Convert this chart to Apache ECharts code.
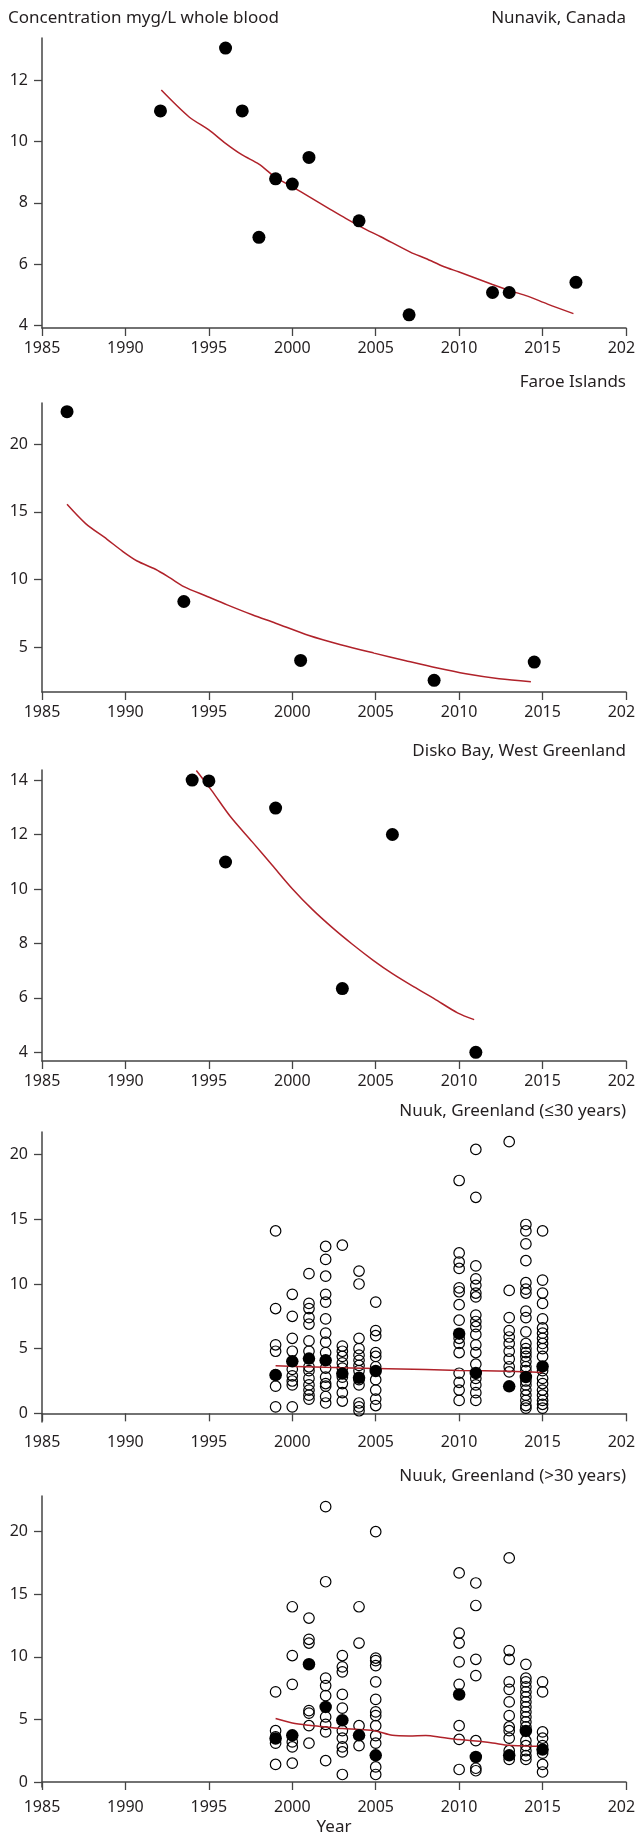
<!DOCTYPE html>
<html>
<head>
<meta charset="utf-8">
<script src="https://cdn.jsdelivr.net/npm/echarts@6/dist/echarts.min.js"></script>
<style>
html,body{margin:0;padding:0;background:#fff;}
#chart{width:635px;height:1836px;}
</style>
</head>
<body>
<div id="chart"></div>
<script>
// ---------- Panel titles ----------
const yAxisTitle = 'Concentration myg/L whole blood';
const panelTitles = ['Nunavik, Canada', 'Faroe Islands', 'Disko Bay, West Greenland', 'Nuuk, Greenland (\u226430 years)', 'Nuuk, Greenland (>30 years)'];
const xAxisTitle = 'Year';

// ---------- Nunavik, Canada ----------
const nunavikYears  = [1992.1, 1996, 1997, 1998, 1999, 2000, 2001, 2004, 2007, 2012, 2013, 2017];
const nunavikValues = [11.0, 13.05, 11.0, 6.87, 8.78, 8.61, 9.48, 7.41, 4.34, 5.07, 5.07, 5.40];
const nunavikTrendYears  = [1992.15, 1993.8, 1995.0, 1996.0, 1997.0, 1998.0, 1999.0, 2000.0, 2001.0, 2002.2, 2003.2, 2004.4, 2005.3, 2007.1, 2008.0, 2009.1, 2010.0, 2012.0, 2013.1, 2014.1, 2015.3, 2016.85];
const nunavikTrendValues = [11.68, 10.81, 10.38, 9.94, 9.56, 9.26, 8.83, 8.52, 8.20, 7.81, 7.49, 7.13, 6.89, 6.38, 6.18, 5.91, 5.74, 5.33, 5.12, 4.95, 4.69, 4.38];

// ---------- Faroe Islands ----------
const faroeYears  = [1986.5, 1993.5, 2000.5, 2008.5, 2014.5];
const faroeValues = [22.4, 8.39, 4.04, 2.57, 3.92];
const faroeTrendYears  = [1986.5, 1987.6, 1988.9, 1989.8, 1990.7, 1991.8, 1992.7, 1993.5, 1994.9, 1996.1, 1997.6, 1999.0, 2001.0, 2002.9, 2004.9, 2006.8, 2008.7, 2010.4, 2012.4, 2014.3];
const faroeTrendValues = [15.56, 14.16, 12.98, 12.12, 11.38, 10.77, 10.11, 9.49, 8.76, 8.14, 7.41, 6.79, 5.88, 5.20, 4.58, 4.02, 3.48, 3.06, 2.69, 2.47];

// ---------- Disko Bay, West Greenland ----------
const diskoYears  = [1994, 1995, 1996, 1999, 2003, 2006, 2011];
const diskoValues = [14.0, 13.97, 10.99, 12.97, 6.34, 12.0, 4.0];
const diskoTrendYears  = [1994.25, 1995.15, 1996.3, 1997.6, 1998.8, 2000.0, 2001.2, 2002.4, 2003.6, 2004.85, 2006.0, 2007.3, 2008.5, 2009.9, 2010.9];
const diskoTrendValues = [14.35, 13.63, 12.65, 11.73, 10.87, 10.01, 9.25, 8.58, 7.97, 7.38, 6.89, 6.40, 5.97, 5.45, 5.20];

// ---------- Nuuk, Greenland (<=30 years) ----------
const nuukYoungYears = [1999, 2000, 2001, 2002, 2003, 2004, 2005, 2010, 2011, 2013, 2014, 2015];
const nuukYoungIndividuals = [
  [14.1, 8.1, 5.3, 4.8, 3.0, 2.1, 0.5],
  [9.2, 7.5, 5.8, 4.8, 3.4, 2.9, 2.5, 2.2, 0.5],
  [10.8, 8.5, 8.1, 7.4, 6.9, 5.6, 4.8, 3.6, 3.3, 2.7, 2.2, 1.8, 1.4, 1.1],
  [12.9, 11.9, 10.6, 9.2, 8.6, 7.3, 6.2, 5.5, 4.7, 3.5, 2.8, 2.3, 2.1, 1.3, 0.8],
  [13.0, 5.2, 4.8, 4.4, 3.9, 3.5, 2.8, 2.3, 1.6, 0.95],
  [11.0, 10.0, 5.8, 5.0, 4.5, 4.1, 3.7, 3.3, 2.6, 2.2, 0.8, 0.5, 0.2],
  [8.6, 6.4, 6.0, 4.7, 4.4, 3.6, 2.6, 1.8, 1.1, 0.6],
  [18.0, 12.4, 11.7, 11.2, 9.7, 9.4, 8.4, 7.2, 5.8, 5.4, 4.7, 3.1, 2.4, 1.8, 1.0],
  [20.4, 16.7, 11.4, 10.4, 9.9, 9.3, 9.0, 7.6, 7.1, 6.7, 6.1, 5.3, 4.7, 3.8, 2.7, 2.2, 1.6, 1.0],
  [21.0, 9.5, 7.4, 6.4, 5.9, 5.4, 4.8, 4.2, 3.6, 3.2],
  [14.6, 14.1, 13.1, 11.8, 10.1, 9.6, 9.3, 7.9, 7.4, 6.3, 5.4, 5.0, 4.7, 4.4, 4.0, 3.6, 3.3, 2.5, 2.2, 1.8, 1.4, 1.0, 0.6, 0.4],
  [14.1, 10.3, 9.3, 8.5, 7.3, 6.6, 6.2, 5.8, 5.4, 5.0, 4.4, 3.3, 2.7, 2.3, 1.8, 1.4, 1.0, 0.7, 0.4]
];
const nuukYoungMeans = [2.95, 4.02, 4.23, 4.1, 3.07, 2.75, 3.27, 6.16, 3.12, 2.09, 2.81, 3.63];
const nuukYoungTrendYears  = [1999, 2002, 2005, 2008, 2010, 2013, 2015];
const nuukYoungTrendValues = [3.68, 3.56, 3.47, 3.38, 3.32, 3.25, 3.15];

// ---------- Nuuk, Greenland (>30 years) ----------
const nuukOldYears = [1999, 2000, 2001, 2002, 2003, 2004, 2005, 2010, 2011, 2013, 2014, 2015];
const nuukOldIndividuals = [
  [7.2, 4.1, 3.6, 3.1, 1.4],
  [14.0, 10.1, 7.8, 3.2, 2.8, 1.5],
  [13.1, 11.4, 11.1, 5.7, 5.5, 4.5, 3.1],
  [22.0, 16.0, 8.3, 7.7, 6.9, 5.2, 4.6, 4.0, 1.7],
  [10.1, 9.2, 8.8, 7.0, 5.9, 4.1, 3.5, 2.8, 2.4, 0.6],
  [14.0, 11.1, 4.5, 2.9],
  [20.0, 9.9, 9.7, 9.3, 8.0, 6.6, 5.6, 5.3, 4.5, 3.7, 3.1, 1.2, 0.6],
  [16.7, 11.9, 11.1, 9.6, 7.8, 4.5, 3.4, 1.0],
  [15.9, 14.1, 9.8, 8.5, 3.3, 1.1, 0.9],
  [17.9, 10.5, 9.8, 8.0, 7.4, 6.4, 5.3, 4.4, 4.1, 3.5, 2.5, 1.8],
  [9.4, 8.3, 8.0, 7.6, 7.2, 6.8, 6.4, 6.0, 5.6, 5.2, 4.8, 4.4, 3.3, 2.9, 2.5, 2.1, 1.8],
  [8.0, 7.2, 4.0, 3.5, 2.9, 2.3, 1.4, 0.8]
];
const nuukOldMeans = [3.47, 3.73, 9.41, 6.0, 4.93, 3.73, 2.13, 6.99, 2.0, 2.13, 4.08, 2.59];
const nuukOldTrendYears  = [1999, 2000, 2001, 2002, 2003, 2004, 2005, 2006, 2007, 2008, 2009, 2010, 2011, 2012, 2013, 2014, 2015];
const nuukOldTrendValues = [5.07, 4.72, 4.53, 4.40, 4.27, 4.19, 4.08, 3.73, 3.68, 3.71, 3.55, 3.39, 3.28, 3.12, 2.93, 2.88, 2.85];

// ---------- Axis ranges and ticks ----------
const xMin = 1985, xMax = 2020, xStep = 5;
const yRanges = [[3.91, 13.38], [1.71, 23.04], [3.68, 14.37], [-0.67, 21.75], [-0.4, 22.85]];
const yTicks = [[4, 6, 8, 10, 12], [5, 10, 15, 20], [4, 6, 8, 10, 12, 14], [0, 5, 10, 15, 20], [0, 5, 10, 15, 20]];

// ---------- Layout ----------
const FONT = '"Noto Sans", "Open Sans", sans-serif';
const TEXT = '#231f20';
const AXIS = '#444444';
const RED = '#b0222a';
const gridTops = [38, 403, 770, 1132, 1496];
const gridHeights = [290, 289, 291, 290, 291];
const titleTops = [10, 374, 743, 1103, 1468];

const pairs = (xs, ys) => xs.map((x, i) => [x, ys[i]]);
const flatten = (years, groups) => {
  const out = [];
  years.forEach((y, i) => groups[i].forEach(v => out.push([y, v])));
  return out;
};

const grids = [], xAxes = [], yAxes = [], series = [], titles = [];
for (let i = 0; i < 5; i++) {
  grids.push({ left: 42, right: 9, top: gridTops[i], height: gridHeights[i], containLabel: false, outerBoundsMode: 'none' });
  xAxes.push({
    type: 'value', gridIndex: i, min: xMin, max: xMax, interval: xStep,
    axisLine: { show: true, lineStyle: { color: AXIS, width: 1.5 } },
    axisTick: { show: true, length: 8, lineStyle: { color: AXIS, width: 1.3 } },
    axisLabel: { color: TEXT, fontSize: 16, fontFamily: FONT, margin: 12, formatter: v => String(v), hideOverlap: false, showMinLabel: true, showMaxLabel: true },
    splitLine: { show: false },
    name: i === 4 ? xAxisTitle : '',
    nameLocation: 'middle', nameGap: 32,
    nameTextStyle: { color: TEXT, fontSize: 17, fontFamily: FONT }
  });
  yAxes.push({
    type: 'value', gridIndex: i, min: yRanges[i][0], max: yRanges[i][1],
    axisLine: { show: true, lineStyle: { color: AXIS, width: 1.5 } },
    axisTick: { show: true, length: 8, customValues: yTicks[i], lineStyle: { color: AXIS, width: 1.3 } },
    axisLabel: { color: TEXT, fontSize: 16, fontFamily: FONT, margin: 14, customValues: yTicks[i] },
    splitLine: { show: false }
  });
  titles.push({
    text: panelTitles[i], right: 9, top: titleTops[i], padding: 0,
    textStyle: { color: TEXT, fontSize: 17, fontWeight: 'normal', fontFamily: FONT }
  });
}
titles.push({
  text: yAxisTitle, left: 8, top: titleTops[0], padding: 0,
  textStyle: { color: TEXT, fontSize: 17, fontWeight: 'normal', fontFamily: FONT }
});

function trend(idx, xs, ys) {
  return {
    type: 'line', xAxisIndex: idx, yAxisIndex: idx, data: pairs(xs, ys),
    showSymbol: false, smooth: 0.3, silent: true, z: 3,
    lineStyle: { color: RED, width: 1.5 }
  };
}
function filled(idx, data, size) {
  return {
    type: 'scatter', xAxisIndex: idx, yAxisIndex: idx, data: data,
    symbol: 'circle', symbolSize: size, z: 4,
    itemStyle: { color: '#000', opacity: 1 }
  };
}
function open(idx, data) {
  return {
    type: 'scatter', xAxisIndex: idx, yAxisIndex: idx, data: data,
    symbol: 'circle', symbolSize: 10.5, z: 2,
    itemStyle: { color: 'rgba(0,0,0,0)', borderColor: '#000', borderWidth: 1.2, opacity: 1 }
  };
}

series.push(filled(0, pairs(nunavikYears, nunavikValues), 13));
series.push(trend(0, nunavikTrendYears, nunavikTrendValues));
series.push(filled(1, pairs(faroeYears, faroeValues), 13));
series.push(trend(1, faroeTrendYears, faroeTrendValues));
series.push(filled(2, pairs(diskoYears, diskoValues), 13));
series.push(trend(2, diskoTrendYears, diskoTrendValues));
series.push(open(3, flatten(nuukYoungYears, nuukYoungIndividuals)));
series.push(trend(3, nuukYoungTrendYears, nuukYoungTrendValues));
series.push(filled(3, pairs(nuukYoungYears, nuukYoungMeans), 12.5));
series.push(open(4, flatten(nuukOldYears, nuukOldIndividuals)));
series.push(trend(4, nuukOldTrendYears, nuukOldTrendValues));
series.push(filled(4, pairs(nuukOldYears, nuukOldMeans), 12.5));

const chart = echarts.init(document.getElementById('chart'), null, { renderer: 'canvas' });
chart.setOption({
  animation: false,
  backgroundColor: '#ffffff',
  title: titles,
  grid: grids,
  xAxis: xAxes,
  yAxis: yAxes,
  series: series
});
</script>
</body>
</html>
